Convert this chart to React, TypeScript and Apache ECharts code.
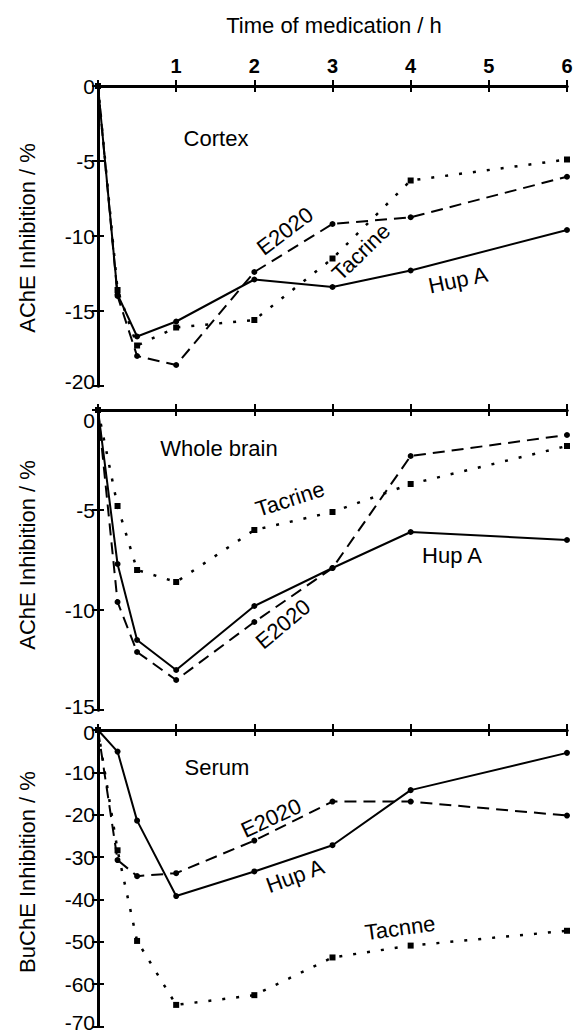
import React, { useEffect, useRef } from "react";
import * as echarts from "echarts";

// Time points (h)
const hours = [0, 0.25, 0.5, 1, 2, 3, 4, 6];

// Cortex (AChE inhibition, %)
const cortexHupA = [0, -13.9, -16.7, -15.7, -12.9, -13.4, -12.3, -9.6];
const cortexE2020 = [0, -14.0, -18.0, -18.6, -12.4, -9.2, -8.75, -6.05];
const cortexTacrine = [0, -13.6, -17.3, -16.1, -15.6, -11.5, -6.3, -4.9];

// Whole brain (AChE inhibition, %)
const brainHupA = [0, -7.7, -11.5, -13.0, -9.8, -7.9, -6.1, -6.5];
const brainE2020 = [0, -9.6, -12.1, -13.5, -10.6, -7.9, -2.3, -1.25];
const brainTacrine = [0, -4.8, -8.0, -8.6, -6.0, -5.1, -3.7, -1.8];

// Serum (BuChE inhibition, %)
const serumHupA = [0, -5.1, -21.4, -39.2, -33.4, -27.2, -14.2, -5.4];
const serumE2020 = [0, -30.7, -34.5, -33.8, -26.1, -16.9, -16.9, -20.2];
const serumTacrine = [0, -28.4, -49.8, -64.9, -62.6, -53.7, -50.9, -47.4];

const xTitle = "Time of medication / h";
const yTitles = ["AChE Inhibition / %", "AChE Inhibition / %", "BuChE Inhibition / %"];
const yMins = [-20, -15, -70];
const yIntervals = [5, 5, 10];

const FONT = "'Liberation Sans', Arial, Helvetica, sans-serif";

export default function App() {
  const ref = useRef<HTMLDivElement>(null);

  useEffect(() => {
    const chart = echarts.init(ref.current!, null, { renderer: "svg" });

    const gridTops = [86, 410, 730];
    const grids = gridTops.map((top) => ({ left: 98, top, width: 469, height: 300 }));

    const axisLine = { show: true, lineStyle: { color: "#000", width: 3 } };
    const axisTick = { show: true, inside: true, length: 6, lineStyle: { color: "#000", width: 2 } };

    // vertical nudges of the end labels (padding top, padding bottom), per panel
    const maxPad = [[0, 0], [20, 0], [4, 0]];
    const minPad = [[0, 10], [0, 8], [0, 8]];

    const labStyle = { fontSize: 21, fontFamily: FONT, color: "#000" };

    const xAxes: any[] = [];
    const yAxes: any[] = [];
    grids.forEach((_, i) => {
      xAxes.push({
        type: "value", gridIndex: i, position: "bottom", min: 0, max: 6, interval: 1,
        axisLine, axisTick, splitLine: { show: false }, axisLabel: { show: false },
      });
      xAxes.push({
        type: "value", gridIndex: i, position: "top", min: 0, max: 6, interval: 1,
        axisLine, axisTick, splitLine: { show: false },
        axisLabel: i === 0
          ? {
              show: true, margin: 10, color: "#000", fontSize: 20, fontWeight: "bold", fontFamily: FONT,
              formatter: (v: number) => (v === 0 ? "" : String(v)),
            }
          : { show: false },
      });
      yAxes.push({
        type: "value", gridIndex: i, position: "left", min: yMins[i], max: 0, interval: yIntervals[i],
        axisLine, axisTick, splitLine: { show: false },
        axisLabel: {
          show: true, margin: 3, ...labStyle,
          formatter: (v: number) => {
            if (v === 0) return `{mx|${v}}`;
            if (v === yMins[i]) return `{mn|${v}}`;
            return `{n|${v}}`;
          },
          rich: {
            n: { ...labStyle },
            mx: { ...labStyle, padding: [maxPad[i][0], 0, maxPad[i][1], 0] },
            mn: { ...labStyle, padding: [minPad[i][0], 0, minPad[i][1], 0] },
          },
        },
      });
      yAxes.push({
        type: "value", gridIndex: i, position: "right", min: yMins[i], max: 0, interval: yIntervals[i],
        axisLine, axisTick, splitLine: { show: false }, axisLabel: { show: false },
      });
    });

    const toData = (vals: number[]) => hours.map((t, k) => [t, vals[k]]);
    const mk = (name: string, vals: number[], i: number, kind: "hup" | "e" | "tac") => ({
      type: "line",
      name,
      xAxisIndex: 2 * i,
      yAxisIndex: 2 * i,
      data: toData(vals),
      symbol: kind === "tac" ? "rect" : "circle",
      symbolSize: 6,
      itemStyle: { color: "#000" },
      lineStyle: {
        color: "#000",
        width: kind === "tac" ? 2.5 : 2,
        type: kind === "hup" ? "solid" : kind === "e" ? [12, 7] : [3, 11],
      },
      emphasis: { disabled: true },
    });

    const series = [
      mk("Hup A", cortexHupA, 0, "hup"),
      mk("E2020", cortexE2020, 0, "e"),
      mk("Tacrine", cortexTacrine, 0, "tac"),
      mk("Hup A", brainHupA, 1, "hup"),
      mk("E2020", brainE2020, 1, "e"),
      mk("Tacrine", brainTacrine, 1, "tac"),
      mk("Hup A", serumHupA, 2, "hup"),
      mk("E2020", serumE2020, 2, "e"),
      mk("Tacrine", serumTacrine, 2, "tac"),
    ];

    const txt = (text: string, x: number, y: number, deg: number, size = 22) => ({
      type: "text",
      x,
      y,
      rotation: (deg * Math.PI) / 180,
      silent: true,
      style: {
        text,
        fill: "#000",
        fontSize: size,
        fontFamily: FONT,
        textAlign: "center",
        align: "center",
        textVerticalAlign: "middle",
        verticalAlign: "middle",
      },
    });

    const graphic = [
      txt(xTitle, 334, 25, 0),
      txt(yTitles[0], 27, 238, 90),
      txt(yTitles[1], 27, 555, 90),
      txt(yTitles[2], 27, 872, 90),
      // Cortex
      txt("Cortex", 216, 138, 0),
      txt("E2020", 285, 231, 37),
      txt("Tacrine", 361, 252, 44),
      txt("Hup A", 458, 280, 12),
      // Whole brain
      txt("Whole brain", 219, 448, 0),
      txt("Tacrine", 290, 499, 18),
      txt("Hup A", 452, 555, 0),
      txt("E2020", 283, 624, 40),
      // Serum
      txt("Serum", 217, 767, 0),
      txt("E2020", 271, 818, 25),
      txt("Hup A", 295, 876, 20),
      txt("Tacnne", 400, 928, 8),
    ];

    chart.setOption({
      animation: false,
      backgroundColor: "#fff",
      grid: grids,
      xAxis: xAxes,
      yAxis: yAxes,
      series,
      graphic,
    });

    return () => chart.dispose();
  }, []);

  return (
    <div
      ref={ref}
      style={{ position: "absolute", left: 0, top: 0, width: 577, height: 1033 }}
    />
  );
}
